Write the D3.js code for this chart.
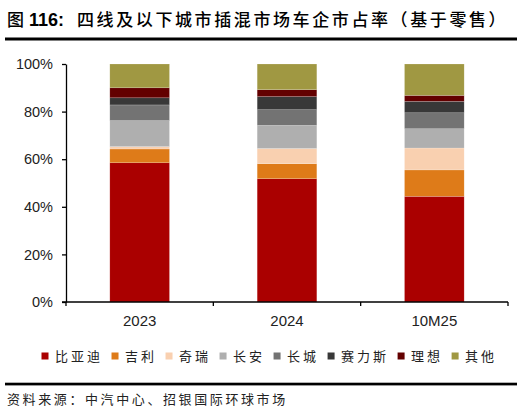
<!DOCTYPE html>
<html>
<head>
<meta charset="utf-8">
<script src="https://cdn.jsdelivr.net/npm/d3@7"></script>
<style>
  body { margin: 0; background: #fff; }
  svg { display: block; }
  .cjk { font-family: "Noto Sans CJK SC", sans-serif; }
  .lat { font-family: "Liberation Sans", Arial, sans-serif; }
</style>
</head>
<body>
<svg id="chart" width="529" height="417"></svg>
<script>
// Market share of PHEV makers in tier-4 and below cities (retail)

const categories = ['2023', '2024', '10M25'];
const makers = ['比亚迪', '吉利', '奇瑞', '长安', '长城', '赛力斯', '理想', '其他'];
const colors = ['#aa0000', '#de7b19', '#f9d0b0', '#afafaf', '#737373', '#383838', '#630000', '#a09842'];

// shares in %, one array per maker, in category order
const byd     = [58.5, 51.8, 44.4];
const geely   = [5.8, 6.3, 11.1];
const chery   = [1.0, 6.4, 9.2];
const changan = [10.9, 9.7, 8.1];
const gwm     = [6.6, 6.6, 6.7];
const seres   = [3.0, 5.5, 4.8];
const lixiang = [4.2, 2.9, 2.5];
const others  = [10.0, 10.8, 13.2];

const yTicks = [0, 20, 40, 60, 80, 100];

const series = [byd, geely, chery, changan, gwm, seres, lixiang, others];

const rows = categories.map((c, i) => {
    const row = { cat: c };
    makers.forEach((m, k) => { row[m] = series[k][i]; });
    return row;
});

const svg = d3.select('#chart');

// Title
const title = svg.append('text')
    .attr('x', 7)
    .attr('y', 26)
    .attr('fill', '#000');
title.append('tspan')
    .attr('class', 'cjk')
    .attr('font-size', 17)
    .attr('font-weight', 500)
    .text('图');
title.append('tspan')
    .attr('class', 'lat')
    .attr('x', 29)
    .attr('font-size', 18)
    .attr('font-weight', 'bold')
    .text('116:');
title.append('tspan')
    .attr('class', 'cjk')
    .attr('x', 77)
    .attr('font-size', 17)
    .attr('font-weight', 500)
    .attr('letter-spacing', 2.6)
    .text('四线及以下城市插混市场车企市占率（基于零售）');

svg.append('rect')
    .attr('x', 5).attr('y', 37.5)
    .attr('width', 512).attr('height', 3)
    .attr('fill', '#000');

// Scales
const x = d3.scaleBand()
    .domain(categories)
    .range([66, 508])
    .paddingInner(0.595)
    .paddingOuter(0.2975);

const xTickScale = d3.scaleBand()
    .domain(categories)
    .range([66, 508]);

const y = d3.scaleLinear()
    .domain([0, 100])
    .range([302, 64]);

const stack = d3.stack().keys(makers);
const stacked = stack(rows);

// Bars
const layers = svg.append('g')
    .selectAll('g')
    .data(stacked)
    .join('g')
    .attr('fill', (d, i) => colors[i]);

layers.selectAll('rect')
    .data(d => d)
    .join('rect')
    .attr('x', d => x(d.data.cat))
    .attr('y', d => y(d[1]))
    .attr('width', x.bandwidth())
    .attr('height', d => y(d[0]) - y(d[1]))
    .attr('stroke', '#fff')
    .attr('stroke-width', 0.5)
    .attr('stroke-opacity', 0.35);

// Y axis
const yAxis = svg.append('g')
    .attr('transform', 'translate(66,0)')
    .call(d3.axisLeft(y).tickValues(yTicks).tickSize(4).tickSizeOuter(0).tickFormat(d => d + '%'));
yAxis.select('.domain').attr('stroke', '#000').attr('stroke-width', 1.3);
yAxis.selectAll('.tick line').attr('stroke', '#000').attr('stroke-width', 1.3);
yAxis.selectAll('.tick text')
    .attr('class', 'lat')
    .attr('x', -13)
    .attr('font-size', 14.5)
    .attr('fill', '#222');

// X axis
const xAxis = svg.append('g')
    .attr('transform', 'translate(0,302)');
xAxis.append('line')
    .attr('x1', 62).attr('x2', 508)
    .attr('stroke', '#000').attr('stroke-width', 1.3);
const bounds = categories.map(c => xTickScale(c)).concat([xTickScale.range()[1]]);
xAxis.selectAll('line.tk')
    .data(bounds)
    .join('line')
    .attr('class', 'tk')
    .attr('x1', d => d).attr('x2', d => d)
    .attr('y1', 0).attr('y2', 4)
    .attr('stroke', '#000').attr('stroke-width', 1.3);
xAxis.selectAll('text')
    .data(categories)
    .join('text')
    .attr('class', 'lat')
    .attr('x', d => x(d) + x.bandwidth() / 2)
    .attr('y', 24)
    .attr('text-anchor', 'middle')
    .attr('font-size', 15)
    .attr('fill', '#222')
    .text(d => d);

// Legend
const legend = svg.append('g').attr('transform', 'translate(41.5,0)');
let lx = 0;
makers.forEach((m, i) => {
    const item = legend.append('g').attr('transform', `translate(${lx},0)`);
    item.append('rect')
        .attr('x', 0).attr('y', 352.5)
        .attr('width', 7).attr('height', 7)
        .attr('fill', colors[i]);
    const t = item.append('text')
        .attr('class', 'cjk')
        .attr('x', 13.5)
        .attr('y', 361)
        .attr('font-size', 13)
        .attr('letter-spacing', 3)
        .attr('fill', '#222')
        .text(m);
    lx += 13.5 + t.node().getComputedTextLength() + 8.5;
});

// Bottom rule and source
svg.append('rect')
    .attr('x', 5).attr('y', 382.7)
    .attr('width', 512).attr('height', 2.7)
    .attr('fill', '#000');

svg.append('text')
    .attr('class', 'cjk')
    .attr('x', 7)
    .attr('y', 404)
    .attr('font-size', 13)
    .attr('letter-spacing', 2.6)
    .attr('fill', '#222')
    .text('资料来源：中汽中心、招银国际环球市场');
</script>
</body>
</html>
